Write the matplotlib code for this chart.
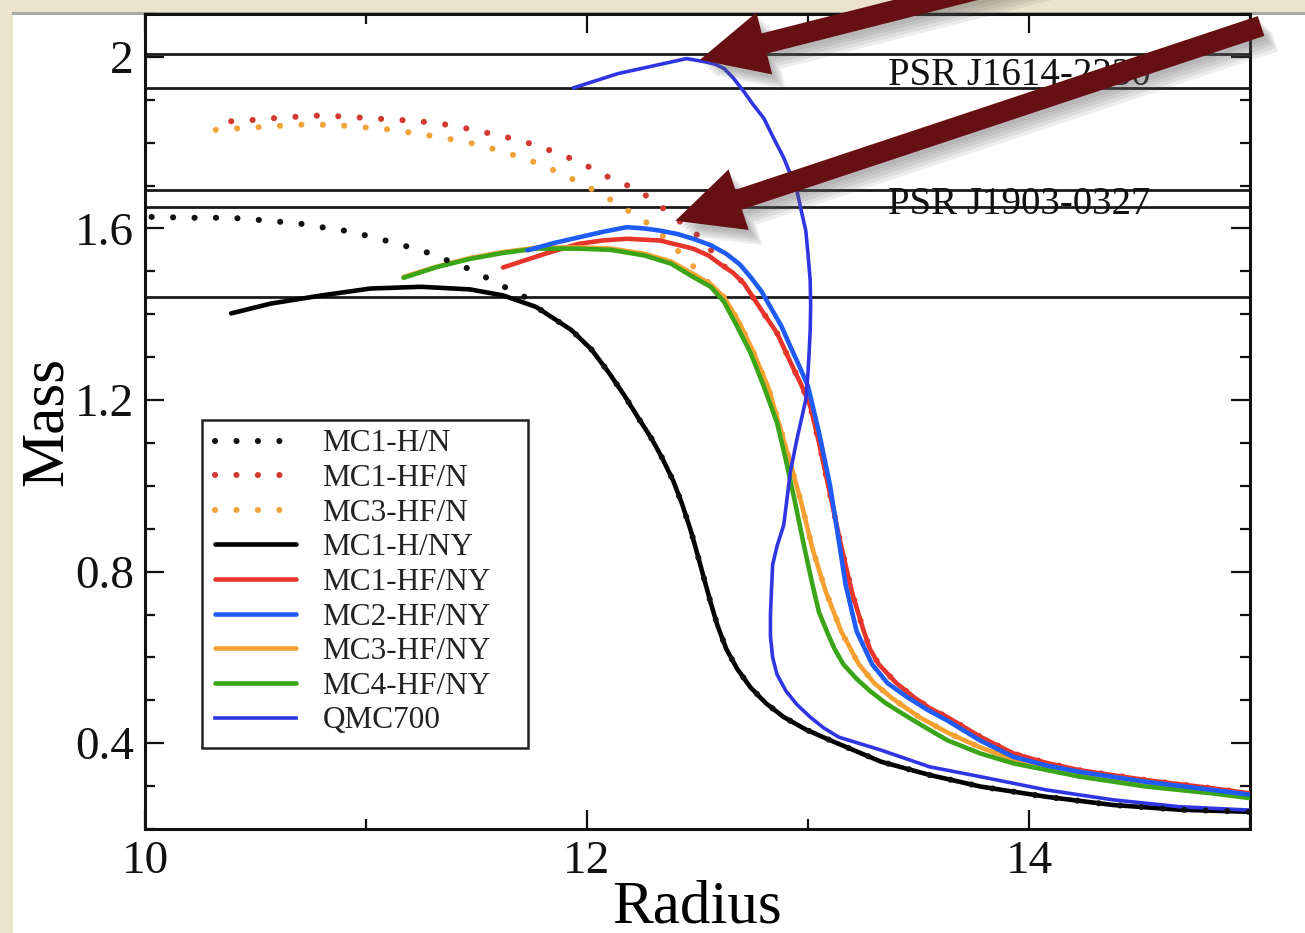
import matplotlib
matplotlib.use("Agg")
import matplotlib.pyplot as plt
from matplotlib import patheffects
from matplotlib.patches import Rectangle
from matplotlib.lines import Line2D
from matplotlib.ticker import MultipleLocator

plt.rcParams["font.family"] = ["Liberation Serif", "DejaVu Serif"]

# mass-radius curves (radius in km, mass in solar masses)
mc1_h_n_r = [10.03, 10.08, 10.17, 10.27, 10.36, 10.46, 10.55, 10.65, 10.74, 10.83,
             10.93, 11.02, 11.11, 11.20, 11.29, 11.38, 11.47, 11.55, 11.63, 11.72]
mc1_h_n_m = [1.627, 1.627, 1.625, 1.625, 1.625, 1.623, 1.618, 1.614, 1.609, 1.600,
             1.593, 1.581, 1.569, 1.556, 1.542, 1.523, 1.505, 1.484, 1.463, 1.440]

mc1_hf_n_r = [10.39, 10.49, 10.58, 10.67, 10.77, 10.86, 10.96, 11.05, 11.15, 11.24,
              11.34, 11.43, 11.52, 11.62, 11.71, 11.80, 11.88, 11.97, 12.04, 12.14,
              12.23, 12.31, 12.38, 12.45, 12.53, 12.60]
mc1_hf_n_m = [1.850, 1.853, 1.857, 1.860, 1.863, 1.862, 1.859, 1.856, 1.853, 1.850,
              1.844, 1.836, 1.826, 1.815, 1.803, 1.789, 1.772, 1.755, 1.734, 1.709,
              1.691, 1.660, 1.634, 1.603, 1.573, 1.520]

mc3_hf_n_r = [10.32, 10.41, 10.51, 10.60, 10.70, 10.79, 10.89, 10.98, 11.07, 11.17,
              11.26, 11.35, 11.45, 11.54, 11.63, 11.72, 11.81, 11.89, 11.98, 12.06,
              12.14, 12.22, 12.30, 12.37, 12.44, 12.50, 12.56]
mc3_hf_n_m = [1.830, 1.833, 1.836, 1.839, 1.842, 1.842, 1.840, 1.836, 1.833, 1.826,
              1.819, 1.811, 1.802, 1.791, 1.777, 1.763, 1.745, 1.726, 1.704, 1.681,
              1.657, 1.630, 1.604, 1.569, 1.533, 1.502, 1.468]

mc1_h_ny_r = [10.39, 10.57, 10.80, 11.02, 11.25, 11.47, 11.62, 11.77, 11.93, 12.02,
              12.10, 12.17, 12.23, 12.29, 12.34, 12.39, 12.43, 12.47, 12.50, 12.53,
              12.56, 12.59, 12.63, 12.68, 12.74, 12.81, 12.89, 12.99, 13.10, 13.33,
              13.55, 13.78, 14.08, 14.38, 14.68, 15.0]
mc1_h_ny_m = [1.402, 1.425, 1.444, 1.460, 1.464, 1.458, 1.444, 1.417, 1.363, 1.318,
              1.263, 1.210, 1.160, 1.112, 1.065, 1.012, 0.958, 0.895, 0.840, 0.783,
              0.727, 0.675, 0.620, 0.573, 0.530, 0.493, 0.461, 0.432, 0.407, 0.357,
              0.326, 0.299, 0.275, 0.256, 0.245, 0.240]

mc1_hf_ny_r = [11.62, 11.81, 11.96, 12.07, 12.18, 12.33, 12.48, 12.55, 12.60, 12.66,
               12.71, 12.78, 12.86, 12.93, 12.97, 13.01, 13.05, 13.10, 13.15, 13.20,
               13.25, 13.28, 13.32, 13.40, 13.48, 13.55, 13.63, 13.78, 13.93, 14.08,
               14.23, 14.53, 14.83, 15.0]
mc1_hf_ny_m = [1.509, 1.541, 1.564, 1.572, 1.576, 1.572, 1.553, 1.537, 1.518, 1.497,
               1.472, 1.417, 1.356, 1.278, 1.235, 1.186, 1.100, 0.980, 0.860, 0.750,
               0.665, 0.620, 0.584, 0.540, 0.507, 0.482, 0.461, 0.415, 0.376, 0.354,
               0.337, 0.314, 0.295, 0.283]

mc2_hf_ny_r = [11.73, 11.85, 11.96, 12.07, 12.18, 12.26, 12.33, 12.41, 12.48, 12.56,
               12.63, 12.69, 12.74, 12.79, 12.83, 12.88, 12.92, 12.96, 13.00, 13.05,
               13.10, 13.14, 13.17, 13.22, 13.29, 13.36, 13.45, 13.54, 13.63, 13.78,
               13.93, 14.08, 14.23, 14.53, 14.83, 15.0]
mc2_hf_ny_m = [1.549, 1.566, 1.579, 1.592, 1.603, 1.600, 1.595, 1.587, 1.576, 1.561,
               1.541, 1.517, 1.487, 1.453, 1.417, 1.372, 1.325, 1.280, 1.232, 1.124,
               1.000, 0.870, 0.770, 0.661, 0.584, 0.540, 0.507, 0.478, 0.453, 0.406,
               0.368, 0.348, 0.333, 0.310, 0.291, 0.280]

mc3_hf_ny_r = [11.17, 11.32, 11.47, 11.62, 11.77, 11.96, 12.11, 12.26, 12.38, 12.48,
               12.56, 12.62, 12.69, 12.75, 12.82, 12.88, 12.93, 12.97, 13.02, 13.08,
               13.15, 13.23, 13.30, 13.38, 13.50, 13.63, 13.78, 13.93, 14.23, 14.53,
               14.83, 15.0]
mc3_hf_ny_m = [1.487, 1.511, 1.531, 1.545, 1.555, 1.556, 1.553, 1.541, 1.523, 1.494,
               1.470, 1.440, 1.380, 1.315, 1.230, 1.125, 1.035, 0.960, 0.854, 0.754,
               0.661, 0.584, 0.540, 0.505, 0.462, 0.425, 0.390, 0.362, 0.330, 0.307,
               0.289, 0.278]

mc4_hf_ny_r = [11.17, 11.32, 11.47, 11.62, 11.77, 11.96, 12.11, 12.26, 12.38, 12.48,
               12.56, 12.62, 12.68, 12.74, 12.80, 12.86, 12.90, 12.94, 12.98, 13.02,
               13.05, 13.09, 13.12, 13.16, 13.22, 13.28, 13.35, 13.43, 13.53, 13.63,
               13.78, 13.93, 14.23, 14.53, 14.83, 15.0]
mc4_hf_ny_m = [1.485, 1.510, 1.529, 1.543, 1.553, 1.553, 1.550, 1.537, 1.518, 1.487,
               1.464, 1.429, 1.371, 1.310, 1.232, 1.147, 1.060, 0.965, 0.865, 0.770,
               0.705, 0.655, 0.620, 0.584, 0.550, 0.522, 0.494, 0.468, 0.437, 0.407,
               0.376, 0.353, 0.322, 0.299, 0.283, 0.272]

qmc700_r = [11.94, 12.14, 12.45, 12.54, 12.58, 12.62, 12.66, 12.71, 12.75, 12.80,
            12.845, 12.89, 12.92, 12.95, 12.97, 12.99, 13.00, 13.01, 13.012, 13.01,
            13.005, 13.00, 12.99, 12.95, 12.92, 12.89, 12.86, 12.84, 12.835, 12.83,
            12.83, 12.84, 12.86, 12.90, 12.95, 13.01, 13.07, 13.14, 13.33, 13.55,
            13.78, 14.08, 14.38, 14.68, 15.0]
qmc700_m = [1.928, 1.961, 1.996, 1.988, 1.983, 1.973, 1.952, 1.919, 1.890, 1.857,
            1.810, 1.765, 1.727, 1.688, 1.640, 1.595, 1.540, 1.479, 1.420, 1.363,
            1.310, 1.263, 1.201, 1.109, 1.032, 0.908, 0.860, 0.816, 0.760, 0.700,
            0.650, 0.600, 0.560, 0.522, 0.490, 0.461, 0.436, 0.414, 0.384, 0.345,
            0.322, 0.291, 0.268, 0.252, 0.244]

# observed pulsar mass bands (upper/lower edges) and the 1.44 line
psr_lines = [2.007, 1.928, 1.690, 1.651, 1.441]
psr_labels = ["PSR J1614-2230", "PSR J1903-0327"]
psr_label_mass = [1.957, 1.657]


def tail_after(r_list, m_list, r_min):
    # the nucleon-only curves run on top of the hyperon curves below the onset
    pairs = [(r, m) for r, m in zip(r_list, m_list) if r > r_min]
    return [p[0] for p in pairs], [p[1] for p in pairs]


fig = plt.figure(figsize=(13.05, 9.33), dpi=100)
fig.patch.set_facecolor("#ebe3cb")
panel = Rectangle((13 / 1305, 0), 1 - 13 / 1305, 1 - 13 / 933,
                  transform=fig.transFigure, facecolor="white", edgecolor="none")
panel.set_zorder(-5)
fig.add_artist(panel)
fig.add_artist(Line2D([13 / 1305, 1], [1 - 13 / 933, 1 - 13 / 933],
                      transform=fig.transFigure, color="#a8a8a8", lw=2.2, zorder=-4))

ax = fig.add_axes([145 / 1305, 104 / 933, 1105 / 1305, 815 / 933])
ax.set_facecolor("white")

for m in psr_lines:
    ax.axhline(m, color="#1a1a1a", lw=2.0, zorder=1)

dot = dict(lw=4.4, dashes=(0.01, 3.5), dash_capstyle="round")
solid = dict(lw=3.3, solid_joinstyle="round", solid_capstyle="round")

t_r, t_m = tail_after(mc1_h_ny_r, mc1_h_ny_m, 11.75)
ax.plot(mc1_h_n_r + t_r, mc1_h_n_m + t_m, color="#111111", label="MC1-H/N", zorder=4, **dot)
t_r, t_m = tail_after(mc1_hf_ny_r, mc1_hf_ny_m, 12.65)
ax.plot(mc1_hf_n_r + t_r, mc1_hf_n_m + t_m, color="#d03a30", label="MC1-HF/N", zorder=2, **dot)
t_r, t_m = tail_after(mc3_hf_ny_r, mc3_hf_ny_m, 12.60)
ax.plot(mc3_hf_n_r + t_r, mc3_hf_n_m + t_m, color="#f0a33a", label="MC3-HF/N", zorder=2, **dot)

ax.plot(mc1_h_ny_r, mc1_h_ny_m, color="black", label="MC1-H/NY", zorder=3, **solid)
ax.plot(mc1_hf_ny_r, mc1_hf_ny_m, color="#e8352b", label="MC1-HF/NY", zorder=3, **solid)
ax.plot(mc2_hf_ny_r, mc2_hf_ny_m, color="#1f5cf6", label="MC2-HF/NY", zorder=3.2, **solid)
ax.plot(mc3_hf_ny_r, mc3_hf_ny_m, color="#f6a032", label="MC3-HF/NY", zorder=3, **solid)
ax.plot(mc4_hf_ny_r, mc4_hf_ny_m, color="#3aa518", label="MC4-HF/NY", zorder=3.1, **solid)
ax.plot(qmc700_r, qmc700_m, color="#3035e4", lw=2.6, solid_joinstyle="round",
        label="QMC700", zorder=3.3)

for txt, m in zip(psr_labels, psr_label_mass):
    ax.text(13.36, m, txt, fontsize=28, va="center", ha="left", color="#111111", zorder=5)

ax.set_xlim(10, 15)
ax.set_ylim(0.2, 2.1)
ax.xaxis.set_major_locator(MultipleLocator(2))
ax.xaxis.set_minor_locator(MultipleLocator(1))
ax.yaxis.set_major_locator(MultipleLocator(0.4))
ax.yaxis.set_minor_locator(MultipleLocator(0.1))
ax.tick_params(which="both", direction="in", top=True, right=True, width=1.6,
               labelsize=34, colors="#111111")
ax.tick_params(which="major", length=14, pad=8)
ax.tick_params(which="minor", length=7)
ax.set_yticks([0.4, 0.8, 1.2, 1.6, 2.0])
ax.set_yticklabels(["0.4", "0.8", "1.2", "1.6", "2"])
for s in ax.spines.values():
    s.set_linewidth(2.2)
    s.set_color("#111111")

ax.set_xlabel("Radius", fontsize=44, labelpad=-2)
ax.set_ylabel("Mass", fontsize=44, labelpad=0)

# legend box is a little wider than matplotlib's own frame, so draw it separately
leg_x, leg_y, leg_w, leg_h = 0.0516, 0.0994, 0.295, 0.4025
ax.add_patch(Rectangle((leg_x, leg_y), leg_w, leg_h, transform=ax.transAxes,
                       facecolor="white", edgecolor="#222222", lw=1.8, zorder=5.5))
leg = ax.legend(loc="lower left", bbox_to_anchor=(leg_x, leg_y), fontsize=22.5,
                frameon=False, handlelength=2.6, handletextpad=0.85, labelspacing=0.18,
                borderpad=0.4, borderaxespad=0)
for t in leg.get_texts():
    t.set_color("#222222")
leg.set_zorder(6)

# slide arrows pointing at the maximum masses, with a soft drop shadow
arrow_color = "#661014"
shadow = [patheffects.SimplePatchShadow(offset=(2 + 2 * k, -3 - 2 * k),
                                        shadow_rgbFace="#606060", alpha=0.11)
          for k in range(5)] + [patheffects.Normal()]
arrow_style = "simple,head_length=4.8,head_width=4.6,tail_width=1.5"
for tip, tail in [((12.51, 1.993), (14.55, 2.26)), ((12.40, 1.618), (15.05, 2.072))]:
    a = ax.annotate("", xy=tip, xytext=tail, xycoords="data", textcoords="data",
                    annotation_clip=False,
                    arrowprops=dict(arrowstyle=arrow_style, fc=arrow_color, ec="none",
                                    shrinkA=0, shrinkB=0, mutation_scale=10))
    a.arrow_patch.set_path_effects(shadow)
    a.arrow_patch.set_clip_on(False)
    a.set_zorder(8)

fig.savefig("out.png", dpi=100, facecolor=fig.get_facecolor())
